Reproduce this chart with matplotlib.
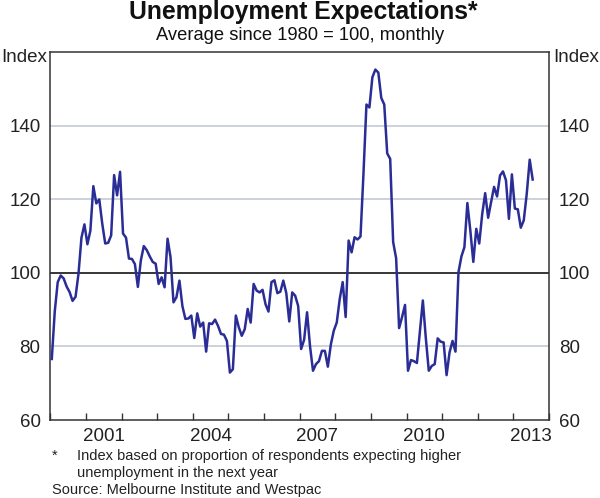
import matplotlib
matplotlib.use("Agg")
import matplotlib.pyplot as plt
import numpy as np

plt.rcParams['font.family'] = ['Liberation Sans', 'DejaVu Sans']

# Monthly index values, Jan 2000 - Jul 2013
values = [
    76.6, 89.5, 97.5, 99.3, 98.5, 96.3, 94.8, 92.4, 93.5, 99.8, 109.6, 113.2,
    107.8, 111.5, 123.6, 118.9, 120.0, 113.4, 108.0, 108.2, 110.2, 126.6, 121.1, 127.5,
    110.7, 109.6, 103.9, 103.8, 102.4, 96.2, 103.4, 107.3, 106.2, 104.5, 103.0, 102.5,
    97.0, 98.8, 96.1, 109.3, 104.3, 92.0, 93.4, 97.9, 91.0, 87.5, 87.6, 88.4,
    82.3, 89.0, 85.4, 86.5, 78.6, 86.3, 86.1, 87.3, 85.6, 83.4, 83.2, 81.5,
    72.9, 73.8, 88.4, 85.2, 82.9, 84.7, 90.2, 86.5, 97.0, 95.2, 94.7, 95.4,
    91.5, 89.5, 97.5, 98.0, 94.5, 94.9, 97.9, 94.5, 86.8, 94.7, 93.8, 91.0,
    79.3, 81.8, 89.3, 80.0, 73.4, 75.2, 76.0, 78.8, 78.8, 74.5, 80.5, 84.3,
    86.5, 92.9, 97.5, 88.0, 108.8, 105.6, 109.7, 109.1, 109.9, 127.0, 145.8, 145.0,
    153.2, 155.3, 154.5, 147.6, 145.8, 132.5, 131.0, 108.4, 104.0, 85.0, 88.0, 91.3,
    73.4, 76.3, 76.0, 75.5, 84.0, 92.5, 82.3, 73.4, 74.7, 75.2, 82.2, 81.3,
    81.1, 72.2, 78.4, 81.5, 78.6, 100.2, 104.5, 107.0, 119.0, 111.5, 103.0, 112.0,
    108.0, 116.0, 121.7, 115.0, 119.3, 123.4, 120.8, 126.5, 127.6, 125.2, 114.7, 126.8,
    117.5, 117.3, 112.3, 114.3, 121.5, 130.8, 125.4,
]
start_year = 2000
label_years = [2001, 2004, 2007, 2010, 2013]
y_ticks = [60, 80, 100, 120, 140]
grid_levels = [80, 120, 140]

x = start_year + (np.arange(len(values)) + 0.5) / 12.0

W, H = 600, 498
fig = plt.figure(figsize=(W / 100, H / 100), dpi=100)
ax = fig.add_axes([50.3 / W, (H - 420) / H, (549 - 50.3) / W, (420 - 52.3) / H])

ax.set_xlim(2000, 2014)
ax.set_ylim(60, 160)

for g in grid_levels:
    ax.axhline(g, color='#c3cad6', lw=1.2, zorder=1)
ax.axhline(100, color='#000000', lw=1.1, zorder=2)

ax.plot(x, values, color='#2a2d96', lw=1.8, zorder=3, solid_joinstyle='round')

# x ticks at year boundaries, labels mid-year
ax.set_xticks(np.arange(2000, 2015))
ax.set_xticklabels([])
ax.set_xticks([y + 0.5 for y in label_years], minor=True)
ax.set_xticklabels([str(y) for y in label_years], minor=True, fontsize=13.5, color='#222222')
ax.tick_params(axis='x', which='major', direction='in', length=5, width=1, color='#333333')
ax.tick_params(axis='x', which='minor', length=0, pad=6)

ax.set_yticks(y_ticks)
ax.set_yticklabels([str(v) for v in y_ticks], fontsize=13.5, color='#222222')
ax.tick_params(axis='y', length=0, pad=7, labelleft=True, labelright=True)

for s in ax.spines.values():
    s.set_color('#333333')
    s.set_linewidth(1.1)

fig.text(1 / W, 1 - 58 / H, 'Index', fontsize=13.5, color='#222222', ha='left', va='center')
fig.text(599 / W, 1 - 58 / H, 'Index', fontsize=13.5, color='#222222', ha='right', va='center')

fig.text(0.505, 1 - 19.5 / H, 'Unemployment Expectations*', fontsize=17.8, fontweight='bold',
         ha='center', va='baseline', color='#111111')
fig.text(0.5, 1 - 36 / H, 'Average since 1980 = 100, monthly', fontsize=13.2,
         ha='center', va='center', color='#111111')

fs = 10.5
fig.text(52 / W, 1 - 456 / H, '*', fontsize=fs, ha='left', va='center', color='#222222')
fig.text(77 / W, 1 - 456 / H, 'Index based on proportion of respondents expecting higher',
         fontsize=fs, ha='left', va='center', color='#222222')
fig.text(77 / W, 1 - 473 / H, 'unemployment in the next year',
         fontsize=fs, ha='left', va='center', color='#222222')
fig.text(52 / W, 1 - 490 / H, 'Source: Melbourne Institute and Westpac',
         fontsize=fs, ha='left', va='center', color='#222222')

fig.savefig('out.png', dpi=100)
